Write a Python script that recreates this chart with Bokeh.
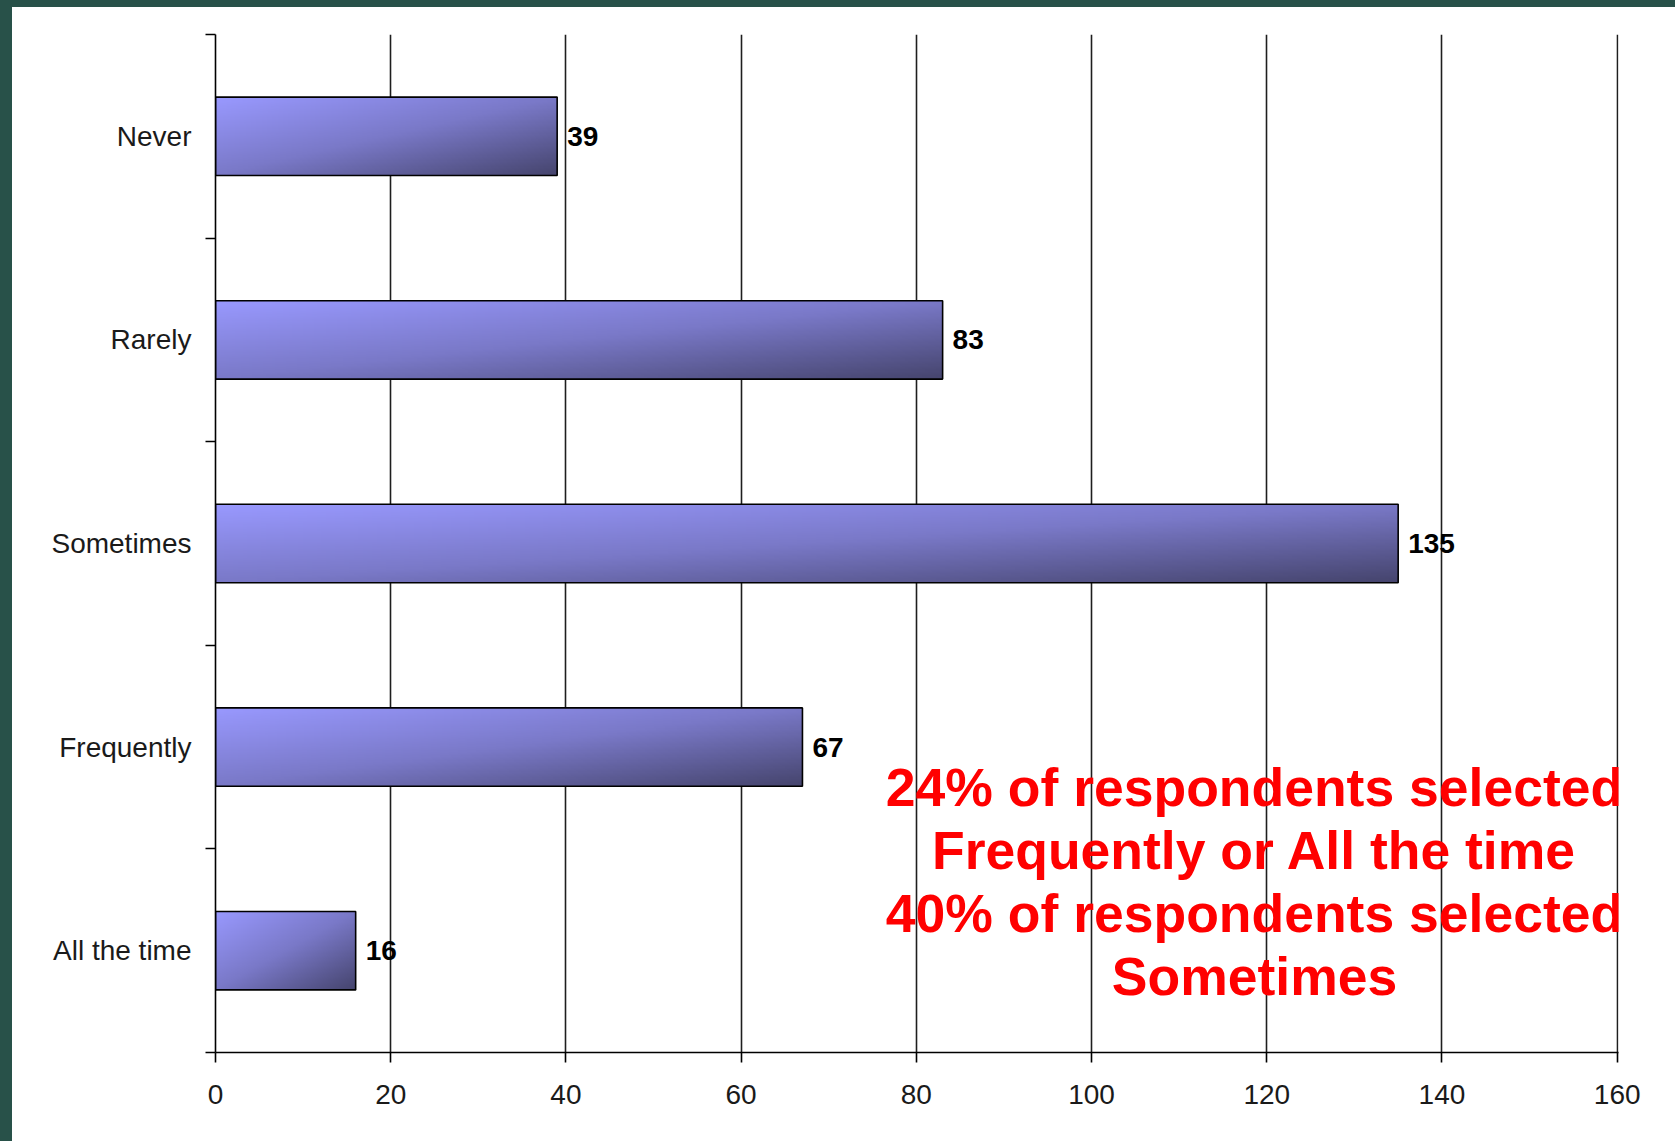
import numpy as np
from bokeh.plotting import figure
from bokeh.layouts import column, row
from bokeh.models import (ColumnDataSource, Range1d, FixedTicker, LabelSet,
                          Label, Spacer)
from bokeh.core.properties import value
from bokeh.embed import file_html
from bokeh.resources import INLINE

# Survey responses
categories = ["Never", "Rarely", "Sometimes", "Frequently", "All the time"]
counts = [39, 83, 135, 67, 16]
x_ticks = [0, 20, 40, 60, 80, 100, 120, 140, 160]
note_lines = [
    "24% of respondents selected",
    "Frequently or All the time",
    "40% of respondents selected",
    "Sometimes",
]

FONT = "Liberation Sans"
BAR_H = 0.385
PAGE_EDGE = "#285149"

n = len(categories)
# first category at the top
y_pos = [n - i - 0.5 for i in range(n)]

source = ColumnDataSource(data=dict(
    cat=categories,
    count=counts,
    y=y_pos,
    left=[0] * n,
    bottom=[y - BAR_H / 2 for y in y_pos],
    dh=[BAR_H] * n,
    label=[str(c) for c in counts],
))

# small headroom past 160 so the last grid line is drawn at full width
p = figure(
    width=1663, height=1134,
    x_range=Range1d(0, 160.15), y_range=Range1d(0, n),
    output_backend="svg", toolbar_location=None,
    min_border_left=203, min_border_right=57,
    min_border_top=27, min_border_bottom=89,
    styles={"background-color": "white"},
)
p.outline_line_color = None
p.background_fill_color = "white"
p.border_fill_color = "white"

# diagonal gradient: light top-left -> dark bottom-right
light = np.array([153, 153, 255], dtype=float)
mid = np.array([122, 121, 200], dtype=float)
dark = np.array([70, 69, 110], dtype=float)
H, W = 64, 256
u = np.linspace(0, 1, W)[None, :]
v = 1 - np.linspace(0, 1, H)[:, None]   # row 0 is the bottom of the bar
t = ((u + v) / 2)[..., None]
col = np.where(t < 0.5,
               light + (mid - light) * (t / 0.5),
               mid + (dark - mid) * ((t - 0.5) / 0.5))
img = np.zeros((H, W), dtype=np.uint32)
view = img.view(dtype=np.uint8).reshape((H, W, 4))
view[..., :3] = np.clip(col, 0, 255).astype(np.uint8)
view[..., 3] = 255
source.data["image"] = [img] * n

p.image_rgba(image="image", x="left", y="bottom", dw="count", dh="dh",
             source=source)
p.hbar(y="y", left="left", right="count", height=BAR_H, source=source,
       fill_alpha=0, line_color="black", line_width=1.6)

# x axis
xa = p.xaxis[0]
xa.ticker = FixedTicker(ticks=x_ticks)
xa.major_tick_out = 10
xa.major_tick_in = 0
xa.minor_tick_line_color = None
xa.axis_line_color = "black"
xa.axis_line_width = 1.6
xa.major_tick_line_color = "black"
xa.major_tick_line_width = 1.6
xa.major_label_text_font = FONT
xa.major_label_text_font_size = "28px"
xa.major_label_text_color = "#1a1a1a"
xa.major_label_standoff = 22

# y axis: names at band centres, tick marks at band boundaries
ya = p.yaxis[0]
ya.ticker = FixedTicker(ticks=y_pos, minor_ticks=list(range(n + 1)))
ya.major_label_overrides = {y: c for y, c in zip(y_pos, categories)}
ya.major_tick_out = 0
ya.major_tick_in = 0
ya.major_tick_line_color = None
ya.minor_tick_out = 10
ya.minor_tick_in = 0
ya.minor_tick_line_color = "black"
ya.minor_tick_line_width = 1.6
ya.axis_line_color = "black"
ya.axis_line_width = 1.6
ya.major_label_text_font = FONT
ya.major_label_text_font_size = "28px"
ya.major_label_text_color = "#1a1a1a"
ya.major_label_standoff = 14

p.xgrid.ticker = FixedTicker(ticks=x_ticks)
p.xgrid.grid_line_color = "#1e1e1e"
p.xgrid.grid_line_width = 1.6
p.ygrid.grid_line_color = None

val_labels = LabelSet(x="count", y="y", text="label", source=source,
                      x_offset=10, text_align="left", text_baseline="middle",
                      text_font=value(FONT), text_font_size=value("28px"),
                      text_font_style="bold", text_color="black")
p.add_layout(val_labels)

# highlighted summary note
note_x = 118.6
note_y = 1.300
note_step = 63
for i, line in enumerate(note_lines):
    p.add_layout(Label(x=note_x, y=note_y, y_offset=-note_step * i,
                       text=line, text_align="center",
                       text_baseline="alphabetic", text_font=FONT,
                       text_font_size="53.5px", text_font_style="bold",
                       text_color="#ff0000"))

# dark page edge along the top and left
edge = {"background-color": PAGE_EDGE}
layout = column(
    Spacer(width=1675, height=7, styles=edge),
    row(Spacer(width=12, height=1134, styles=edge), p, spacing=0),
    spacing=0,
)

open("out.html", "w").write(file_html(layout, INLINE))
